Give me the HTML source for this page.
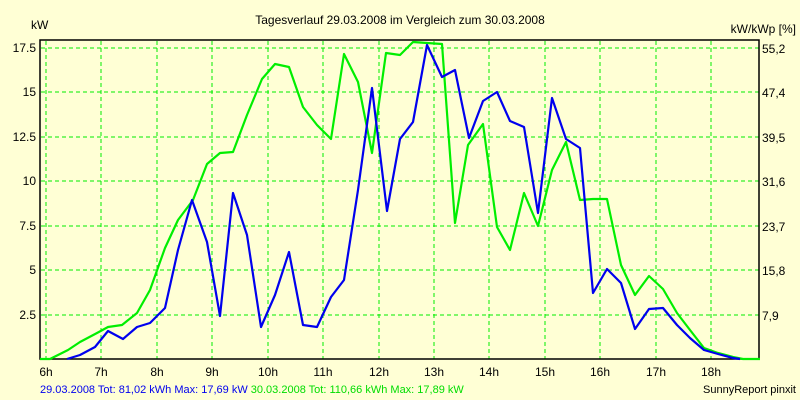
<!DOCTYPE html>
<html><head><style>
body{margin:0;background:#ffffd5;}
svg{display:block;font-family:"Liberation Sans",sans-serif;font-size:12px;}
</style></head><body>
<svg width="800" height="400" viewBox="0 0 800 400">
<rect width="800" height="400" fill="#ffffd5"/>
<text x="400" y="24" text-anchor="middle">Tagesverlauf 29.03.2008 im Vergleich zum 30.03.2008</text>
<text x="31" y="29">kW</text>
<text x="796" y="33" text-anchor="end">kW/kWp [%]</text>
<g stroke="#00ee00" stroke-width="1" stroke-dasharray="4,3" fill="none">
<path d="M46 41V359M101 41V359M157 41V359M212 41V359M268 41V359M323 41V359M379 41V359M434 41V359M489 41V359M545 41V359M600 41V359M656 41V359M711 41V359"/>
<path d="M41 48H759M41 92H759M41 137H759M41 181H759M41 226H759M41 270H759M41 315H759"/>
</g>
<rect x="40" y="40" width="719" height="319" fill="none" stroke="#000" stroke-width="1.5"/>
<g text-anchor="end">
<text x="36" y="52">17.5</text><text x="36" y="96">15</text><text x="36" y="141">12.5</text><text x="36" y="185">10</text><text x="36" y="230">7.5</text><text x="36" y="274">5</text><text x="36" y="319">2.5</text>
</g>
<g>
<text x="762" y="53">55,2</text><text x="762" y="97">47,4</text><text x="762" y="142">39,5</text><text x="762" y="186">31,6</text><text x="762" y="231">23,7</text><text x="762" y="275">15,8</text><text x="762" y="320">7,9</text>
</g>
<g text-anchor="middle">
<text x="46" y="376">6h</text><text x="101" y="376">7h</text><text x="157" y="376">8h</text><text x="212" y="376">9h</text><text x="268" y="376">10h</text><text x="323" y="376">11h</text><text x="379" y="376">12h</text><text x="434" y="376">13h</text><text x="489" y="376">14h</text><text x="545" y="376">15h</text><text x="600" y="376">16h</text><text x="656" y="376">17h</text><text x="711" y="376">18h</text>
</g>
<polyline fill="none" stroke="#00ee00" stroke-width="2.2" stroke-linejoin="round" points="40,359 50,359 68,350 80,342 97,333 108,327 122,325 137,313 150,290 165,248 178,220 193,200 207,164 220,153 233,152 247,115 262,79 275,64 289,67 303,107 317,125 331,139 344,54 358,82 372,153 386,53 400,55 413,42 427,43 442,44 455,223 468,145 483,124 497,227 510,250 524,193 538,226 552,170 566,142 580,200 593,199 607,199 621,265 635,295 649,276 663,289 677,313 690,330 704,348 718,353 733,357 743,359 760,359"/>
<polyline fill="none" stroke="#0000ee" stroke-width="2.2" stroke-linejoin="round" points="67,359 80,355 95,347 108,331 123,339 137,327 150,323 165,308 178,250 192,200 207,242 220,316 233,193 247,235 261,327 275,295 289,252 303,325 317,327 331,297 344,280 358,190 372,88 387,211 400,139 413,122 427,45 442,77 455,70 469,138 483,101 497,92 510,121 524,127 538,213 552,98 566,139 580,148 593,293 607,269 621,283 635,329 649,309 663,308 677,325 690,338 704,350 718,354 733,358 740,359"/>
<text x="40" y="393" fill="#0000ee" font-size="11">29.03.2008 Tot: 81,02 kWh Max: 17,69 kW <tspan fill="#00dd00">30.03.2008 Tot: 110,66 kWh Max: 17,89 kW</tspan></text>
<text x="796" y="393" text-anchor="end" font-size="11">SunnyReport pinxit</text>
</svg>
</body></html>
